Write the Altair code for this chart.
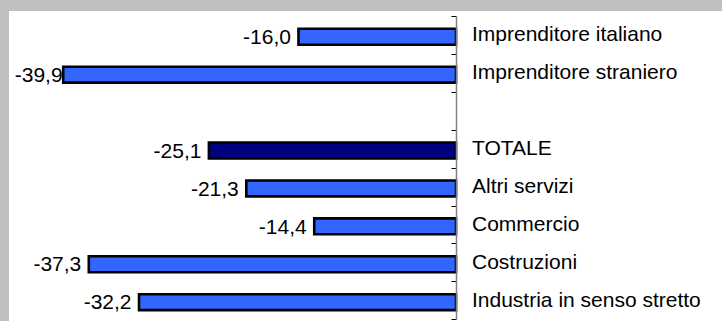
import altair as alt
import pandas as pd

# Rows of the chart, top to bottom (the blank entry leaves an empty slot)
categorie = [
    "Imprenditore italiano",
    "Imprenditore straniero",
    " ",
    "TOTALE",
    "Altri servizi",
    "Commercio",
    "Costruzioni",
    "Industria in senso stretto",
]
voci = [
    "Imprenditore italiano",
    "Imprenditore straniero",
    "TOTALE",
    "Altri servizi",
    "Commercio",
    "Costruzioni",
    "Industria in senso stretto",
]
variazioni = [-16.0, -39.9, -25.1, -21.3, -14.4, -37.3, -32.2]

df = pd.DataFrame({"voce": voci, "valore": variazioni})
df["etichetta"] = [f"{v:.1f}".replace(".", ",") for v in variazioni]
righe = pd.DataFrame({"voce": categorie})

FONT = "Liberation Sans"
BLU = "#3366ff"
BLU_SCURO = "#000080"

W, H = 713, 310
Y_RANGE = [5, 308.3]
x_scale = alt.Scale(domain=[-45, 0], range=[4, 447], nice=False)
y_scale = alt.Scale(domain=categorie, range=Y_RANGE, paddingInner=0.58, paddingOuter=0.29)
# same rows without padding: band edges fall on the row boundaries
y_axis_scale = alt.Scale(domain=categorie, range=Y_RANGE, paddingInner=0, paddingOuter=0)

y_enc = alt.Y("voce:N", scale=y_scale, title=None, axis=None)

bars = alt.Chart(df).mark_bar(stroke="black", strokeWidth=2.6, yOffset=1.8).encode(
    x=alt.X("valore:Q", scale=x_scale, axis=None),
    y=y_enc,
    color=alt.condition(alt.datum.voce == "TOTALE", alt.value(BLU_SCURO), alt.value(BLU)),
)

# value labels sit left of each bar; kept inside the frame for the longest bar
valori = alt.Chart(df).transform_calculate(
    xpos="max(datum.valore, -39.2)"
).mark_text(
    align="right", baseline="alphabetic", dx=-7.5, dy=9, fontSize=21, font=FONT, color="black"
).encode(
    x=alt.X("xpos:Q", scale=x_scale, axis=None),
    y=y_enc,
    text="etichetta:N",
)

nomi = alt.Chart(df).mark_text(
    align="left", baseline="alphabetic", dx=16, dy=6.2, fontSize=21, font=FONT, color="black"
).encode(
    x=alt.datum(0, scale=x_scale),
    y=y_enc,
    text="voce:N",
)

# vertical category axis at zero, ticks pointing into the bars
asse = alt.Chart(righe).mark_point(opacity=0, size=1).encode(
    x=alt.datum(0, scale=x_scale),
    y=alt.Y(
        "voce:N",
        scale=y_axis_scale,
        title=None,
        axis=alt.Axis(
            orient="left",
            offset=-447,
            labels=False,
            tickBand="extent",
            tickSize=5,
            tickColor="black",
            tickWidth=1,
            domainColor="#808080",
            domainWidth=1.5,
            grid=False,
            zindex=1,
        ),
    ),
)

chart = alt.layer(bars, valori, nomi, asse).resolve_scale(y="independent").properties(
    width=W,
    height=H,
    background="#c0c0c0",
    padding={"left": 9, "top": 11, "right": 0, "bottom": 0},
    autosize=alt.AutoSizeParams(type="none"),
).configure_view(fill="white", strokeWidth=0)

chart.save("out.html", embed_options={"renderer": "svg", "actions": False})
